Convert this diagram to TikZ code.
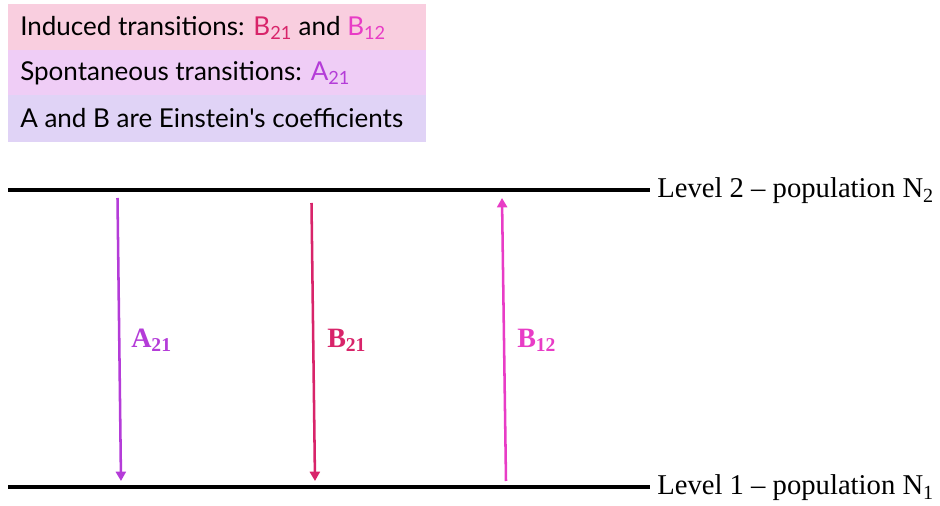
\documentclass[tikz,border=0pt]{standalone}
\usepackage{fontspec}
\setmainfont{Liberation Serif}
\newfontfamily\boxfont{Lato}
\usetikzlibrary{arrows.meta}
\definecolor{rowpink}{HTML}{F9CEDF}
\definecolor{rowviolet}{HTML}{EFCDF6}
\definecolor{rowlav}{HTML}{E0D3F6}
\definecolor{colA}{HTML}{B43CD8}
\definecolor{colBd}{HTML}{D8246A}
\definecolor{colBu}{HTML}{E83CC6}
\tikzset{
  row/.style={fill=#1, draw=none},
  rowtext/.style={anchor=west, font=\boxfont\fontsize{19.5}{22}\selectfont, inner sep=0pt},
  level/.style={line width=2.6pt},
  leveltext/.style={anchor=west, font=\fontsize{21.5}{24}\selectfont, inner sep=0pt},
  trans/.style={line width=1.9pt, color=#1, -{Triangle[length=7pt,width=7.5pt]}},
  translabel/.style={anchor=west, font=\bfseries\fontsize{21}{24}\selectfont, text=#1, inner sep=0pt}
}
\begin{document}
\begin{tikzpicture}[x=0.75pt,y=-0.75pt]
  \useasboundingbox (0,0) rectangle (940,506);
  % legend box
  \fill[rowpink] (8,4) rectangle (426,50);
  \fill[rowviolet] (8,50) rectangle (426,95);
  \fill[rowlav] (8,95) rectangle (426,142);
  \node[rowtext] (induced) at (20,28) {Induced transitions: \textcolor{colBd}{B\textsubscript{21}} and \textcolor{colBu}{B\textsubscript{12}}};
  \node[rowtext] (spont) at (20,73) {Spontaneous transitions: \textcolor{colA}{A\textsubscript{21}}};
  \node[rowtext] (einst) at (20,118) {A and B are Einstein's coefficients};
  % energy levels
  \coordinate (lvtwoL) at (8,190);
  \coordinate (lvtwoR) at (650,190);
  \coordinate (lvoneL) at (8,487);
  \coordinate (lvoneR) at (650,487);
  \draw[level] (lvtwoL) -- (lvtwoR);
  \draw[level] (lvoneL) -- (lvoneR);
  \node[leveltext] (lvtwo) at (657,191) {Level 2 -- population N\textsubscript{2}};
  \node[leveltext] (lvone) at (657,488) {Level 1 -- population N\textsubscript{1}};
  % transitions
  \coordinate (atop) at (117.5,198);
  \coordinate (abot) at (121,481);
  \coordinate (bdtop) at (311.5,203);
  \coordinate (bdbot) at (315,481);
  \coordinate (bubot) at (506,481);
  \coordinate (butop) at (502,198);
  \draw[trans=colA] (atop) -- (abot);
  \draw[trans=colBd] (bdtop) -- (bdbot);
  \draw[trans=colBu] (bubot) -- (butop);
  \node[translabel=colA] (alab) at (131,340) {A\textsubscript{21}};
  \node[translabel=colBd] (bdlab) at (327,340) {B\textsubscript{21}};
  \node[translabel=colBu] (bulab) at (517,340) {B\textsubscript{12}};
\end{tikzpicture}
\end{document}
